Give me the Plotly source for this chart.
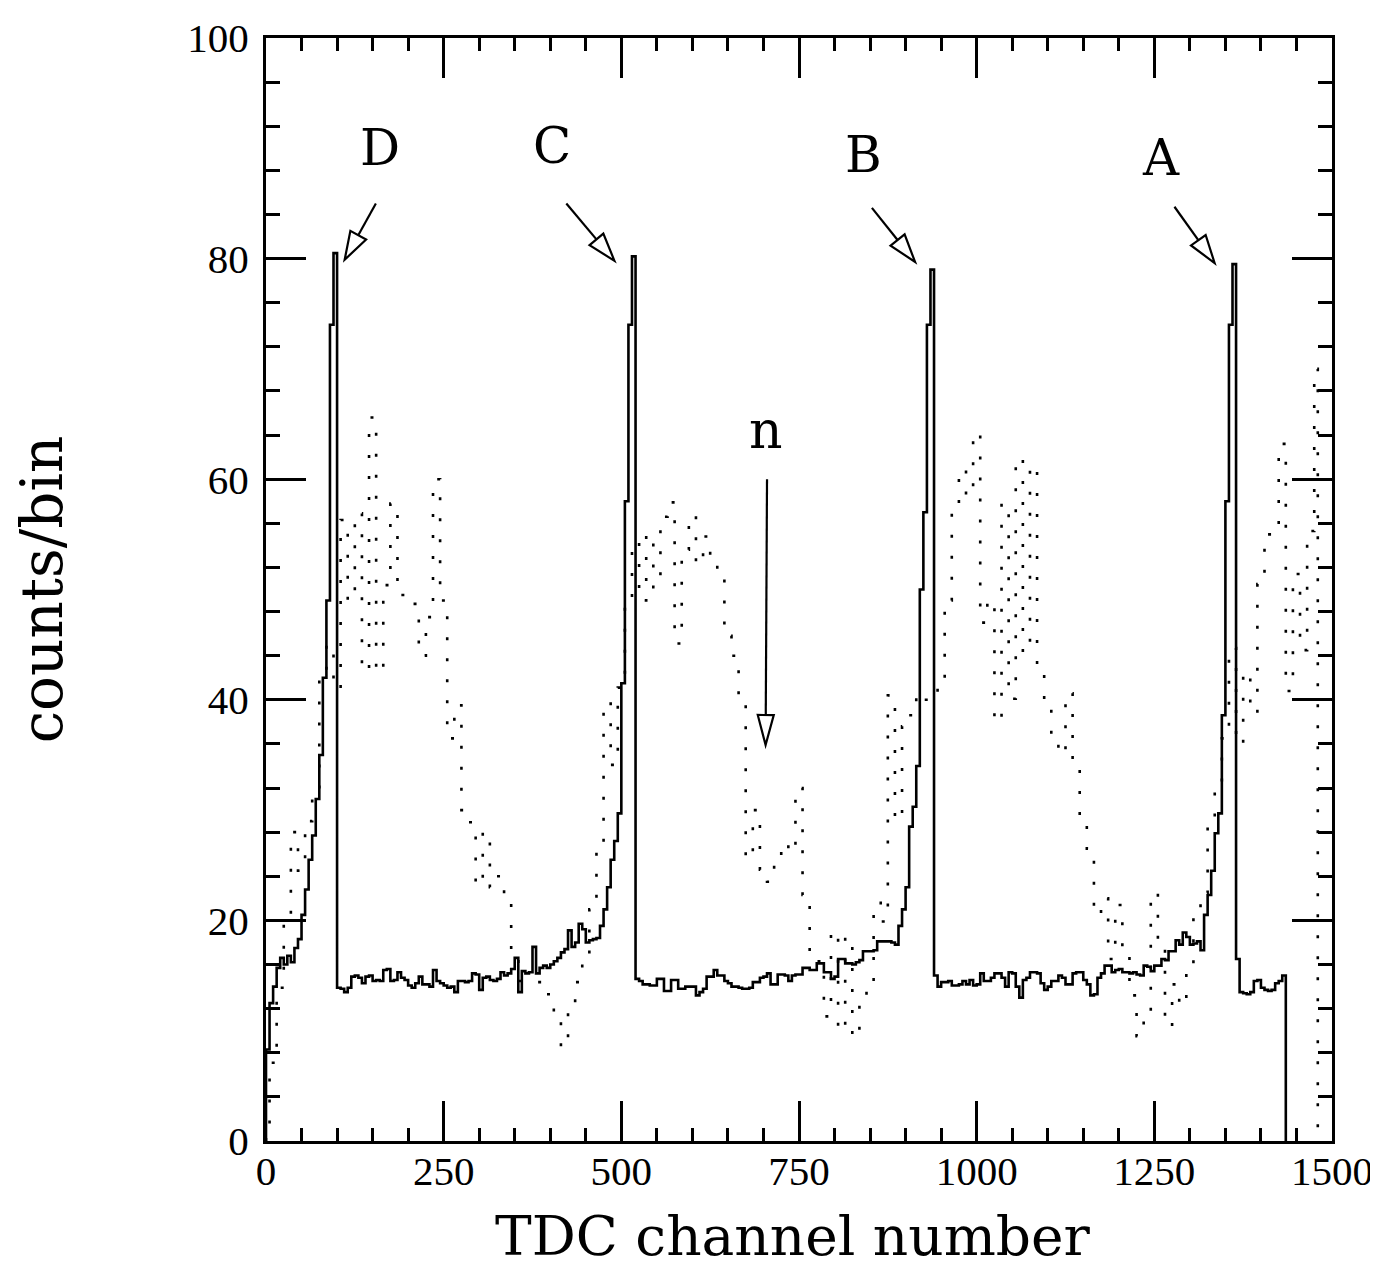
import math
import plotly.graph_objects as go

# ---------------- data ----------------
# solid histogram: 5-channel bins starting at channel 0 (last bin ends at 1435)
solid_bin_width = 5
solid_counts = [
    # 0-95 (rise + peak D)
    8.3, 12.5, 14.0, 15.7, 16.6, 16.0, 16.8, 16.2, 17.5, 18.3,
    20.5, 22.8, 25.5, 27.7, 31.0, 35.0, 42.0, 49.0, 74.0, 80.5,
    # 100-465
    13.9, 13.8, 13.5, 13.9, 14.9, 15.0, 14.8, 14.3, 14.9, 15.0,
    14.5, 14.6, 14.5, 15.5, 15.6, 14.5, 14.6, 15.3, 14.8, 14.6,
    14.1, 13.9, 14.3, 14.9, 14.2, 14.2, 14.0, 15.5, 14.5, 14.3,
    14.1, 13.9, 14.0, 13.5, 14.5, 14.5, 14.4, 14.5, 15.2, 15.1,
    13.7, 14.8, 14.9, 14.6, 14.5, 14.7, 15.3, 15.0, 15.2, 15.6,
    16.6, 13.5, 15.4, 15.2, 15.3, 17.6, 15.2, 15.7, 15.9, 15.7,
    16.0, 16.3, 16.6, 17.1, 17.4, 19.1, 17.6, 18.0, 19.7, 19.2,
    18.0, 18.2, 18.3, 18.4,
    # 470-515 (peak C)
    19.5, 21.0, 23.0, 25.5, 27.2, 29.7, 41.5, 58.0, 74.0, 80.2,
    # 520-885
    14.7, 14.5, 14.2, 14.2, 14.1, 14.1, 14.7, 14.7, 13.6, 13.6,
    14.6, 14.6, 13.8, 13.8, 14.0, 14.0, 14.0, 13.2, 13.5, 13.8,
    14.9, 14.9, 15.5, 15.0, 15.0, 14.5, 14.3, 14.0, 14.0, 13.9,
    13.8, 13.8, 13.9, 14.4, 14.4, 14.8, 14.9, 15.2, 14.2, 14.2,
    15.1, 15.1, 15.0, 14.5, 15.0, 15.1, 15.1, 15.7, 15.7, 15.5,
    15.5, 16.1, 16.1, 15.3, 15.3, 14.7, 14.9, 16.5, 16.5, 16.1,
    16.1, 16.0, 16.2, 16.4, 17.2, 17.2, 17.2, 17.3, 18.1, 18.1,
    18.1, 18.1, 18.0, 17.8,
    # 890-935 (peak B)
    19.5, 21.0, 23.0, 28.5, 30.3, 34.0, 50.0, 57.0, 74.0, 79.0,
    # 940-1315
    15.0, 14.0, 14.4, 14.4, 14.5, 14.1, 14.1, 14.2, 14.5, 14.2,
    14.6, 14.1, 14.2, 15.2, 14.5, 14.5, 14.8, 15.2, 15.2, 14.8,
    14.0, 15.3, 15.2, 14.0, 13.0, 14.6, 14.8, 15.3, 15.3, 15.2,
    14.3, 13.7, 14.0, 14.5, 14.5, 15.0, 14.8, 14.2, 14.2, 15.2,
    15.3, 15.3, 14.6, 14.2, 13.2, 13.3, 14.8, 15.2, 15.9, 15.9,
    15.3, 15.5, 15.6, 15.3, 15.3, 15.2, 15.3, 15.1, 15.0, 15.9,
    15.8, 15.4, 15.9, 15.9, 16.5, 16.4, 17.2, 17.2, 18.2, 17.8,
    18.9, 18.5, 17.8, 17.9, 18.1, 17.3,
    # 1320-1360 (peak A)
    20.5, 22.3, 24.5, 27.9, 29.7, 38.6, 58.0, 74.0, 79.5,
    # 1365-1430
    16.5, 13.5, 13.4, 13.3, 13.5, 14.5, 14.6, 13.9, 13.7, 13.6,
    13.7, 14.3, 14.5, 15.0,
]

# dotted histogram: 10-channel bins centred on multiples of 10 (0 ... 1470)
dotted_counts = [
    1.4, 7.1, 13.9, 20.5, 28.0, 24.5, 29.0, 31.0, 42.0, 45.0,      # 0-90
    41.0, 56.3, 49.0, 56.9, 42.6, 65.6, 42.5, 50.4, 57.8, 49.5,    # 100-190
    49.0, 48.7, 44.0, 47.5, 60.0, 49.0, 36.5, 39.5, 30.0, 28.9,    # 200-290
    23.2, 28.0, 23.0, 24.0, 22.0, 16.7, 14.5, 14.4, 14.4, 14.4,    # 300-390
    13.3, 11.4, 8.5, 12.1, 14.4, 16.2, 21.0, 27.0, 39.8, 34.1,     # 400-490
    41.1, 48.9, 54.3, 49.0, 55.0, 50.2, 56.6, 57.9, 45.1, 53.6,    # 500-590
    56.7, 52.3, 54.8, 52.9, 51.1, 45.8, 44.0, 40.3, 25.6, 30.0,    # 600-690
    24.6, 23.5, 25.7, 27.0, 26.2, 32.0, 22.3, 16.6, 16.3, 11.3,    # 700-790
    19.0, 10.0, 18.5, 9.4, 12.5, 14.3, 21.6, 19.9, 40.4, 29.1,     # 800-890
    37.6, 38.6, 40.5, 40.0, 40.1, 41.2, 49.0, 57.5, 60.9, 58.5,    # 900-990
    64.2, 47.0, 49.0, 38.0, 57.8, 40.1, 61.9, 44.3, 61.2, 42.9,    # 1000-1090
    40.0, 36.9, 35.1, 40.6, 34.0, 29.5, 26.5, 20.5, 22.0, 16.5,    # 1100-1190
    21.4, 17.2, 13.2, 9.5, 11.0, 22.5, 17.5, 10.4, 14.2, 12.3,     # 1200-1290
    15.8, 20.4, 22.5, 28.5, 32.0, 36.5, 44.7, 36.0, 42.5, 38.8,    # 1300-1390
    50.5, 55.0, 55.8, 63.2, 40.8, 51.4, 44.5, 55.3, 70.0,          # 1400-1480
]

x_tick_vals = [0, 250, 500, 750, 1000, 1250, 1500]
y_tick_vals = [0, 20, 40, 60, 80, 100]

peak_labels = ["D", "C", "B", "A"]
label_x = [161, 402, 841, 1260]
label_y = [90.0, 90.2, 89.4, 89.1]
arrow_tail = [(154.6, 85.0), (422.6, 85.0), (852.6, 84.6), (1278.3, 84.7)]
arrow_tip = [(110.7, 79.9), (490.3, 79.8), (913.3, 79.7), (1334.8, 79.6)]
n_label = (704, 64.5)
n_tail = (705, 60.0)
n_tip = (703, 35.9)

# ---------------- build step traces ----------------
def step_xy(edges, counts):
    xs = [edges[0]]
    ys = [0]
    for i, c in enumerate(counts):
        xs.append(edges[i])
        ys.append(c)
    xs.append(edges[-1])
    ys.append(counts[-1])
    xs.append(edges[-1])
    ys.append(0)
    return xs, ys

solid_edges = [i * solid_bin_width for i in range(len(solid_counts) + 1)]
sx, sy = step_xy(solid_edges, solid_counts)

# dotted: first bin [0,5], then [5,15], ..., last bin [1465,1480]
d_edges = [0] + [5 + 10 * k for k in range(len(dotted_counts) - 1)] + [1480]
dx, dy = step_xy(d_edges, dotted_counts)

W, H = 1378, 1271
ML, MR, MT, MB = 258, 54, 30, 138
PW, PH = W - ML - MR, H - MT - MB
XR, YR = (0, 1500), (0, 100)
pxx = PW / (XR[1] - XR[0])
pxy = PH / (YR[1] - YR[0])

fig = go.Figure()
fig.add_trace(go.Scatter(x=dx, y=dy, mode="lines", line_shape="hv",
                         line=dict(color="black", width=2.6, dash="3px,18px"),
                         hoverinfo="skip", showlegend=False))
fig.add_trace(go.Scatter(x=sx, y=sy, mode="lines", line_shape="hv",
                         line=dict(color="black", width=2.6),
                         hoverinfo="skip", showlegend=False))

# ---------------- arrows with open heads ----------------
shapes = []
def add_arrow(tail, tip, L=28, Wd=9):
    ddx = (tip[0] - tail[0]) * pxx
    ddy = (tip[1] - tail[1]) * pxy
    d = math.hypot(ddx, ddy)
    ux, uy = ddx / d, ddy / d
    bx = tip[0] - ux * L / pxx
    by = tip[1] - uy * L / pxy
    c1 = (bx + (-uy) * Wd / pxx, by + ux * Wd / pxy)
    c2 = (bx - (-uy) * Wd / pxx, by - ux * Wd / pxy)
    shapes.append(dict(type="line", xref="x", yref="y", x0=tail[0], y0=tail[1],
                       x1=bx, y1=by, line=dict(color="black", width=2.2)))
    shapes.append(dict(type="path", xref="x", yref="y",
                       path=f"M {tip[0]},{tip[1]} L {c1[0]},{c1[1]} L {c2[0]},{c2[1]} Z",
                       fillcolor="white", line=dict(color="black", width=2.2)))

for t, p in zip(arrow_tail, arrow_tip):
    add_arrow(t, p)
add_arrow(n_tail, n_tip, L=30, Wd=8)

annotations = []
for lab, lx, ly in zip(peak_labels, label_x, label_y):
    annotations.append(dict(x=lx, y=ly, xref="x", yref="y", text=lab, showarrow=False,
                            font=dict(family="DejaVu Serif", size=50, color="black")))
annotations.append(dict(x=n_label[0], y=n_label[1], xref="x", yref="y", text="n",
                        showarrow=False,
                        font=dict(family="DejaVu Serif", size=52, color="black")))
annotations.append(dict(x=(785 - ML) / PW, y=-(1228 - (MT + PH)) / PH, xref="paper", yref="paper",
                        text="TDC channel number", showarrow=False,
                        font=dict(family="DejaVu Serif", size=55, color="black"),
                        xanchor="center", yanchor="middle"))

axis_common = dict(showline=True, linecolor="black", linewidth=3, mirror="allticks",
                   ticks="inside", ticklen=40, tickwidth=2.5, tickcolor="black",
                   showgrid=False, zeroline=False,
                   tickfont=dict(family="Liberation Serif", size=41, color="black"))

fig.update_layout(
    width=W, height=H,
    margin=dict(l=ML, r=MR, t=MT, b=MB, autoexpand=False),
    paper_bgcolor="white", plot_bgcolor="white",
    shapes=shapes, annotations=annotations,
    xaxis=dict(range=list(XR), tickvals=x_tick_vals, ticklabelstandoff=-8,
               minor=dict(dtick=50, ticklen=13, tickwidth=2.5, tickcolor="black",
                          ticks="inside", showgrid=False),
               **axis_common),
    yaxis=dict(range=list(YR), tickvals=y_tick_vals, ticklabelstandoff=6,
               title=dict(text="counts/bin", standoff=118,
                          font=dict(family="DejaVu Serif", size=58, color="black")),
               minor=dict(dtick=4, ticklen=14, tickwidth=2.5, tickcolor="black",
                          ticks="inside", showgrid=False),
               **axis_common),
)

fig.write_html("out.html")
